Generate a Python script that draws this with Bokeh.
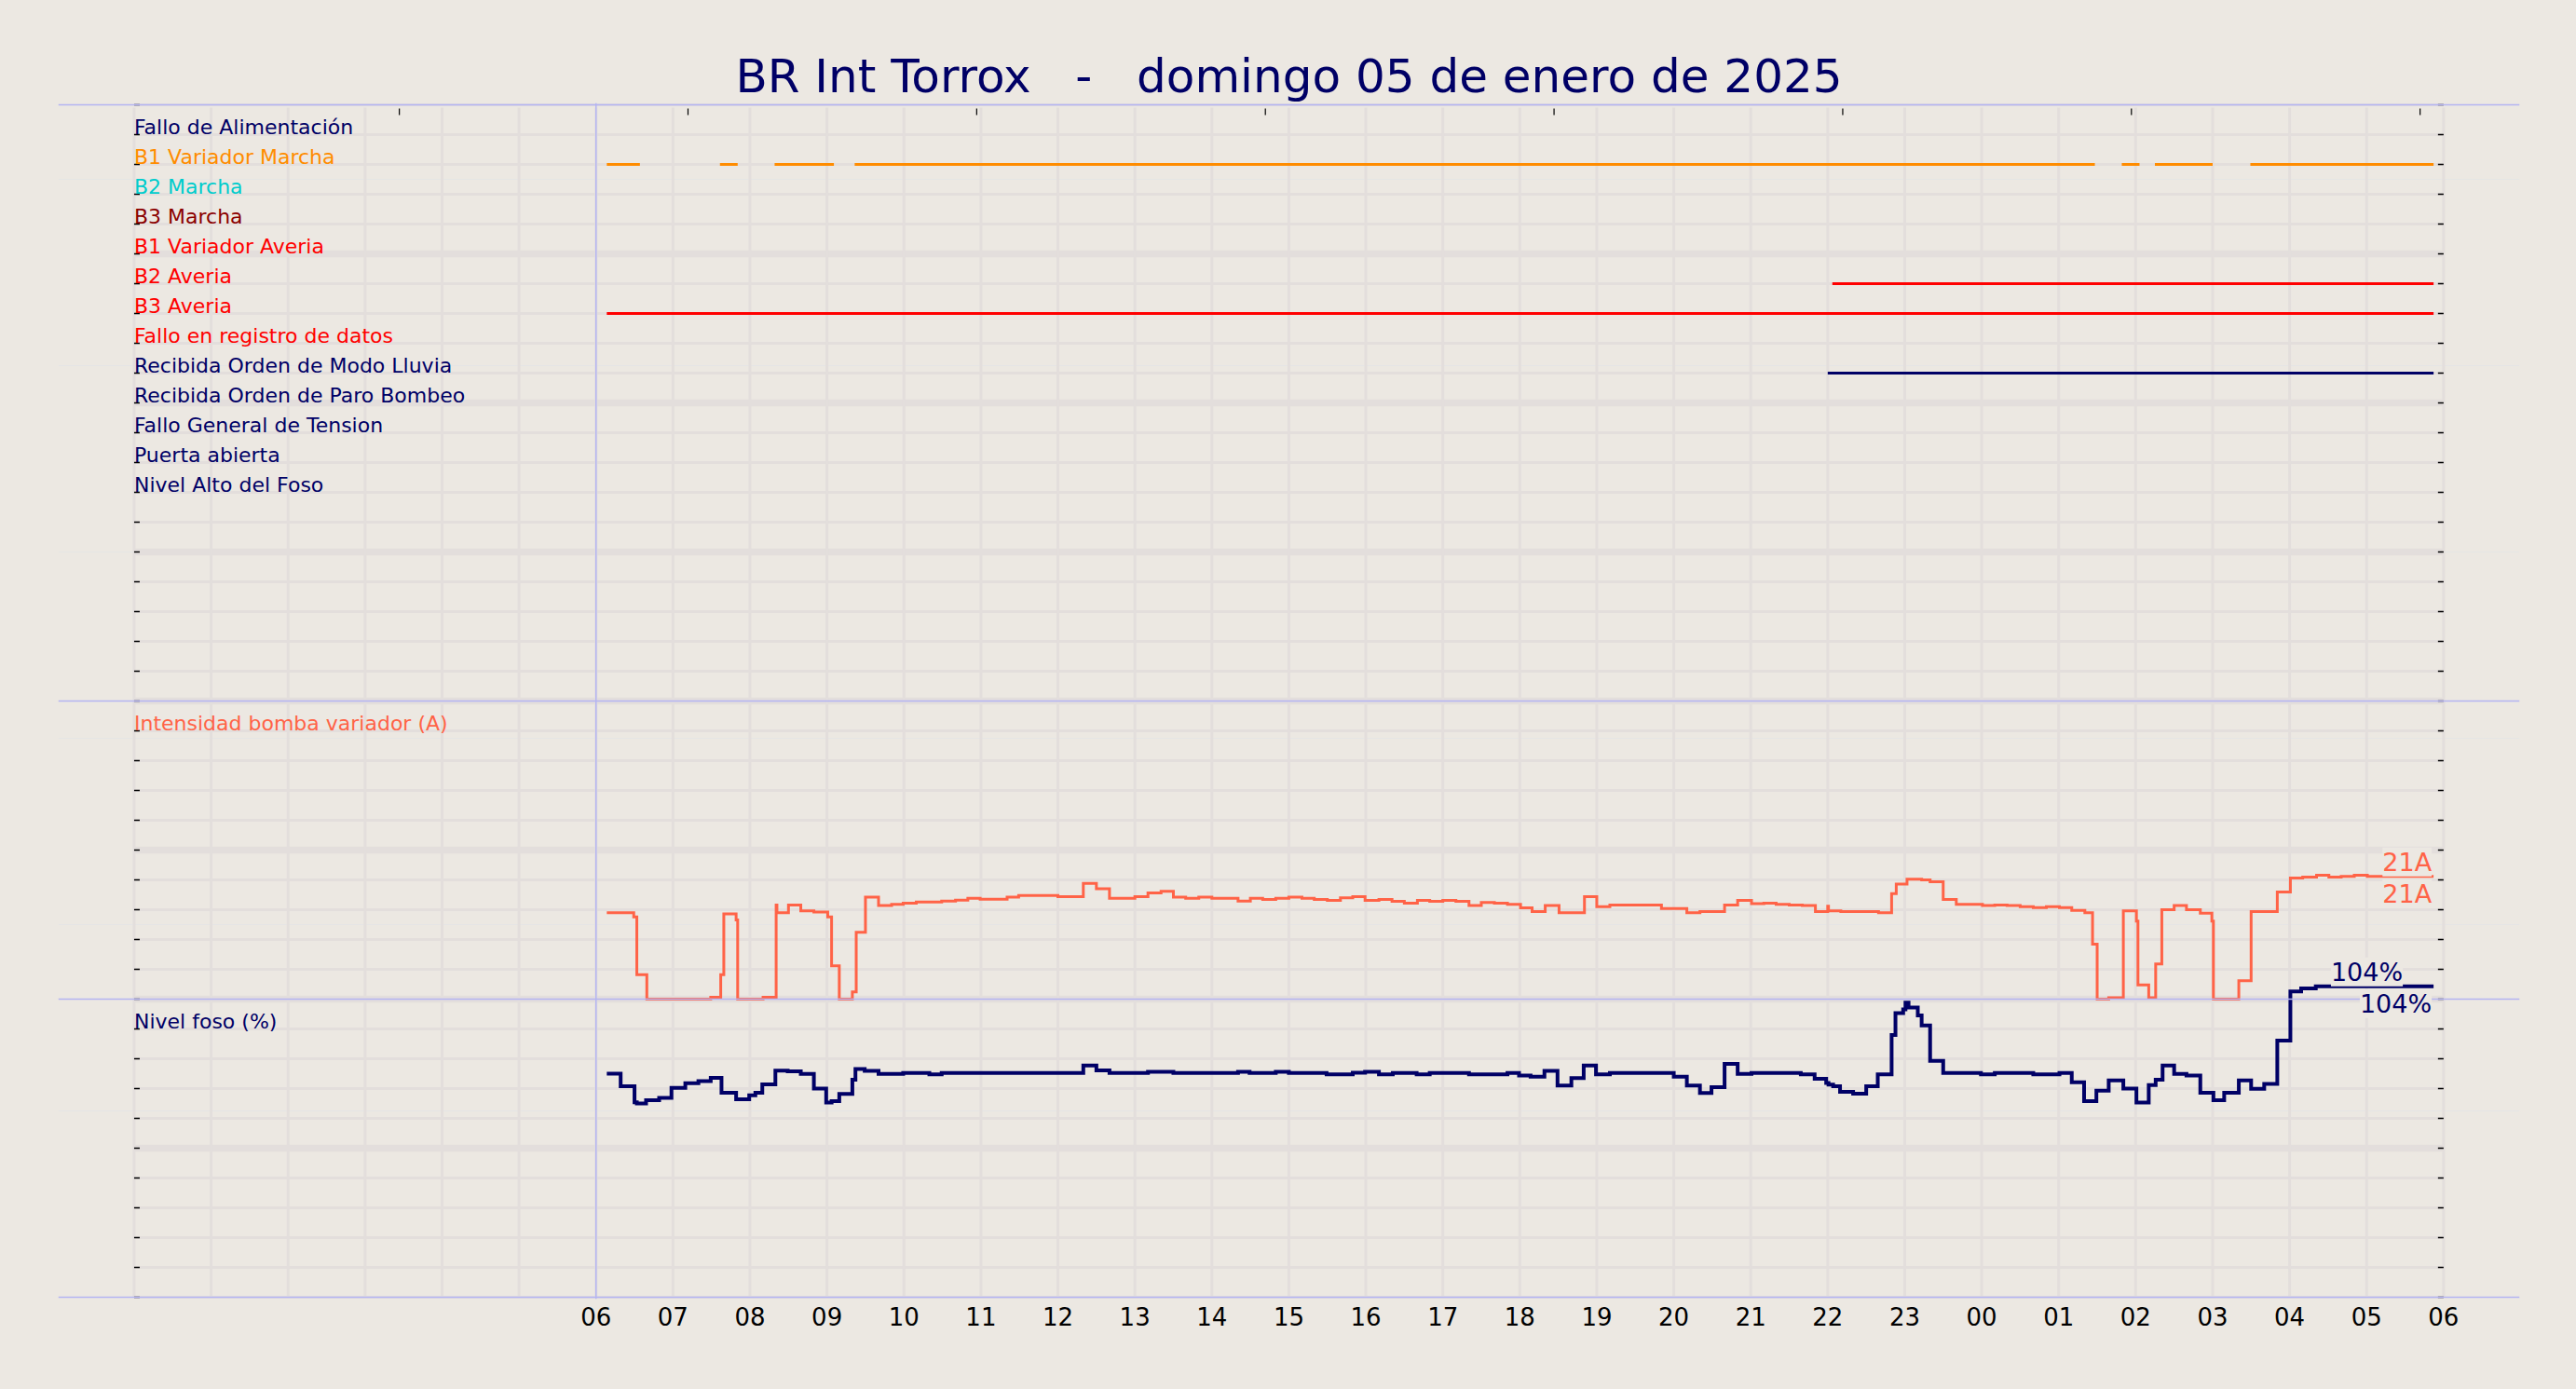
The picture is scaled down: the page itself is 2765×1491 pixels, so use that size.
import math
from bokeh.plotting import figure
from bokeh.models import Range1d, Span, Label, FixedTicker, ColumnDataSource
from bokeh.core.properties import value
from bokeh.embed import file_html
from bokeh.resources import INLINE

# ---------------- data ----------------
TITLE = "BR Int Torrox \u00a0 - \u00a0 domingo 05 de enero de 2025"

signal_labels = [
    "Fallo de Alimentación", "B1 Variador Marcha", "B2 Marcha", "B3 Marcha",
    "B1 Variador Averia", "B2 Averia", "B3 Averia", "Fallo en registro de datos",
    "Recibida Orden de Modo Lluvia", "Recibida Orden de Paro Bombeo",
    "Fallo General de Tension", "Puerta abierta", "Nivel Alto del Foso",
]
signal_colors = [
    "#000066", "#ff8c00", "#00cccc", "#8b0000", "#ff0000", "#ff0000", "#ff0000",
    "#ff0000", "#000066", "#000066", "#000066", "#000066", "#000066",
]

# hours since 00:00 of 05/01/2025 (24 = 00:00 of the next day)
b1_marcha_on = [6.14, 7.61, 8.32, 9.36, 25.82, 26.25, 27.49]
b1_marcha_off = [6.57, 7.84, 9.09, 25.47, 26.05, 27.00, 29.87]
b2_averia_on = [22.06]
b2_averia_off = [29.87]
b3_averia_on = [6.14]
b3_averia_off = [29.87]
modo_lluvia_on = [22.00]
modo_lluvia_off = [29.87]

intensity_t = [
    6.14, 6.49, 6.53, 6.66, 7.49, 7.62, 7.66, 7.82, 7.84, 8.17, 8.34, 8.35, 8.50, 8.66,
    8.83, 9.01, 9.06, 9.16, 9.33, 9.38, 9.50, 9.67, 9.84, 9.99, 10.16, 10.49, 10.67,
    10.83, 10.99, 11.34, 11.49, 12.00, 12.33, 12.50, 12.67, 13.00, 13.17, 13.34, 13.50,
    13.66, 13.83, 14.00, 14.34, 14.50, 14.66, 14.83, 15.00, 15.17, 15.33, 15.50, 15.67,
    15.83, 15.99, 16.17, 16.34, 16.50, 16.67, 16.83, 17.00, 17.17, 17.34, 17.50, 17.67,
    17.84, 18.01, 18.16, 18.33, 18.51, 18.84, 19.00, 19.17, 19.84, 20.17, 20.34, 20.66,
    20.83, 21.01, 21.17, 21.33, 21.50, 21.67, 21.84, 22.00, 22.01, 22.17, 22.66, 22.83,
    22.89, 23.03, 23.22, 23.33, 23.50, 23.67, 24.01, 24.17, 24.33, 24.50, 24.67, 24.84,
    25.01, 25.17, 25.34, 25.44, 25.50, 25.65, 25.84, 26.01, 26.03, 26.17, 26.26, 26.34,
    26.50, 26.66, 26.84, 26.99, 27.01, 27.34, 27.50, 27.84, 28.01, 28.17, 28.35, 28.51,
    28.67, 28.84, 29.01, 29.87,
]
intensity_a = [
    14.5, 13.8, 4.1, 0.0, 0.3, 4.1, 14.3, 13.3, 0.0, 0.3, 15.8, 14.5, 15.8, 14.8,
    14.6, 13.8, 5.6, 0.0, 1.2, 11.2, 17.1, 15.7, 15.9, 16.1, 16.3, 16.45, 16.6,
    16.9, 16.75, 17.1, 17.4, 17.2, 19.4, 18.5, 16.9, 17.2, 17.8, 18.1, 17.1,
    16.9, 17.1, 16.9, 16.45, 16.9, 16.7, 16.9, 17.1, 16.9, 16.7, 16.55, 17.0,
    17.2, 16.55, 16.7, 16.4, 16.1, 16.55, 16.4, 16.55, 16.4, 15.7, 16.2, 16.1,
    15.9, 15.3, 14.7, 15.7, 14.5, 17.2, 15.5, 15.8, 15.2, 14.5, 14.7, 15.8,
    16.55, 16.0, 16.1, 15.9, 15.8, 15.7, 14.7, 15.6, 14.8, 14.7, 14.5, 17.7,
    19.3, 20.1, 20.0, 19.7, 16.7, 15.9, 15.7, 15.8, 15.7, 15.5, 15.35, 15.5,
    15.35, 14.9, 14.5, 9.2, 0.0, 0.25, 14.8, 13.1, 2.4, 0.25, 5.9, 15.0,
    15.7, 15.0, 14.4, 13.1, 0.0, 3.1, 14.7, 17.95, 20.3, 20.45, 20.8, 20.45,
    20.6, 20.8, 20.6, 20.6,
]

level_t = [
    6.14, 6.32, 6.50, 6.53, 6.65, 6.82, 6.98, 7.16, 7.33, 7.49, 7.63, 7.82, 7.99, 8.07,
    8.16, 8.33, 8.49, 8.66, 8.83, 8.99, 9.06, 9.16, 9.33, 9.37, 9.49, 9.67, 9.99, 10.33,
    10.49, 12.33, 12.50, 12.67, 13.17, 13.50, 14.34, 14.49, 14.83, 15.00, 15.49, 15.83,
    15.99, 16.17, 16.35, 16.66, 16.83, 17.34, 17.84, 17.99, 18.14, 18.32, 18.49, 18.67,
    18.83, 18.99, 19.17, 20.00, 20.17, 20.34, 20.49, 20.66, 20.83, 21.01, 21.65, 21.83,
    21.98, 22.01, 22.07, 22.16, 22.33, 22.50, 22.65, 22.83, 22.88, 22.98, 23.01, 23.05,
    23.17, 23.22, 23.33, 23.50, 23.99, 24.17, 24.67, 25.01, 25.17, 25.33, 25.49, 25.65,
    25.84, 26.01, 26.17, 26.26, 26.35, 26.50, 26.66, 26.84, 27.01, 27.15, 27.34, 27.50,
    27.67, 27.84, 28.01, 28.15, 28.34, 29.87,
]
level_pct = [
    75.0, 70.8, 65.4, 65.0, 66.1, 66.9, 70.2, 71.8, 72.5, 73.6, 68.6, 66.4, 67.7, 68.6,
    71.4, 76.0, 75.8, 74.9, 70.0, 65.3, 65.8, 68.2, 73.0, 76.6, 75.9, 74.9, 75.2, 74.8,
    75.2, 77.7, 76.1, 75.2, 75.6, 75.2, 75.6, 75.2, 75.6, 75.2, 74.8, 75.3,
    75.6, 74.8, 75.2, 74.8, 75.2, 74.8, 75.2, 74.4, 74.0, 75.9, 71.0, 73.5,
    77.7, 74.8, 75.2, 74.0, 71.0, 68.5, 70.5, 78.3, 74.9, 75.2, 74.8, 73.3,
    71.9, 71.3, 70.8, 68.9, 68.3, 70.8, 74.8, 88.0, 95.3, 96.6, 98.8, 97.2,
    94.5, 91.2, 79.3, 75.2, 74.8, 75.2, 74.8, 75.2, 72.1, 65.8, 69.3, 72.7,
    70.0, 65.3, 71.2, 73.0, 77.7, 74.9, 74.4, 68.6, 66.1, 68.6, 72.7, 69.9,
    71.6, 86.1, 102.6, 103.6, 104.3, 104.3,
]

hour_ticks = list(range(6, 31))
hour_labels = ["06", "07", "08", "09", "10", "11", "12", "13", "14", "15", "16", "17",
               "18", "19", "20", "21", "22", "23", "00", "01", "02", "03", "04", "05", "06"]
marker_ticks = [3.445, 7.195, 10.945, 14.695, 18.445, 22.195, 25.945, 29.695]

# ---------------- style ----------------
BG = "#ece8e2"
GRID = "#e3dedc"
LAV = "#b4b4f2"
NAVY = "#000066"
TOMATO = "#ff6347"
FONT = "DejaVu Sans"

PAD = 2
p = figure(
    frame_width=2642, frame_height=1284,
    min_border_left=62, min_border_right=53, min_border_top=110, min_border_bottom=89,
    x_range=Range1d(-0.986, 30.988), y_range=Range1d(-PAD, 1280 + PAD),
    output_backend="svg", toolbar_location=None, y_axis_location=None,
)
p.extra_y_ranges = {
    "rows": Range1d(39 + PAD / 32, -1 - PAD / 32),
    "amp": Range1d(-50 - PAD / 6.4, 150 + PAD / 6.4),
    "lvl": Range1d(-PAD / 3.2, 400 + PAD / 3.2),
}
p.background_fill_color = BG
p.border_fill_color = BG
p.outline_line_color = None
p.xgrid.visible = False

p.title.text = TITLE
p.title.align = "center"
p.title.text_font = FONT
p.title.text_font_size = "50px"
p.title.text_font_style = "normal"
p.title.text_color = NAVY
p.title.standoff = 0

ax = p.xaxis[0]
ax.ticker = FixedTicker(ticks=hour_ticks)
ax.major_label_overrides = {t: l for t, l in zip(hour_ticks, hour_labels)}
ax.axis_line_color = None
ax.major_tick_line_color = None
ax.minor_tick_line_color = None
ax.major_label_text_font = FONT
ax.major_label_text_font_size = "26px"
ax.major_label_text_color = "#000000"
ax.major_label_standoff = 2

# grid
row_lines = list(range(0, 1281, 32))
minor_rows = [y for y in row_lines if y % 160 != 0 or y in (0, 1280)]
major_rows = [y for y in row_lines if y % 160 == 0 and y not in (0, 1280)]
hours_all = list(range(0, 31))
p.segment(x0=0, x1=30, y0=minor_rows, y1=minor_rows, line_color=GRID, line_width=3)
p.segment(x0=0, x1=30, y0=major_rows, y1=major_rows, line_color=GRID, line_width=7.5)
p.segment(x0=hours_all, x1=hours_all, y0=0, y1=1277, line_color=GRID, line_width=3)

# small ticks
p.ray(x=0, y=row_lines, length=6, length_units="screen", angle=0, line_color="black", line_width=1.5)
p.ray(x=30, y=row_lines, length=6, length_units="screen", angle=math.pi, line_color="black", line_width=1.5)
p.ray(x=marker_ticks, y=1276, length=7, length_units="screen", angle=-math.pi / 2,
      line_color="black", line_width=1.2)

# digital signals
seg_x0, seg_x1, seg_row, seg_col = [], [], [], []
for on, off, row, col in [
    (b1_marcha_on, b1_marcha_off, 1, "#ff8c00"),
    (b2_averia_on, b2_averia_off, 5, "#ff0000"),
    (b3_averia_on, b3_averia_off, 6, "#ff0000"),
    (modo_lluvia_on, modo_lluvia_off, 8, NAVY),
]:
    for a, b in zip(on, off):
        seg_x0.append(a); seg_x1.append(b); seg_row.append(row); seg_col.append(col)
p.segment(x0="x0", x1="x1", y0="row", y1="row", line_color="col", line_width=3,
          y_range_name="rows",
          source=ColumnDataSource(dict(x0=seg_x0, x1=seg_x1, row=seg_row, col=seg_col)))

TXT_DY = -8  # text sits on the row line (baseline)
p.text(x=0, y="row", text="label", text_color="color", y_range_name="rows",
       source=ColumnDataSource(dict(row=list(range(len(signal_labels))), label=signal_labels,
                                    color=signal_colors)),
       text_font=value(FONT), text_font_size="22px", text_baseline="middle", text_align="left",
       y_offset=TXT_DY)

# analog series
p.step(intensity_t, intensity_a, mode="after", y_range_name="amp", line_color=TOMATO,
       line_width=3, line_join="miter")
p.step(level_t, level_pct, mode="after", y_range_name="lvl", line_color=NAVY,
       line_width=4, line_join="miter")

p.text(x=[0], y=[45], text=["Intensidad bomba variador (A)"], y_range_name="amp",
       text_color=TOMATO, text_font=value(FONT), text_font_size="22px", text_baseline="middle",
       y_offset=TXT_DY)
p.text(x=[0], y=[90], text=["Nivel foso (%)"], y_range_name="lvl",
       text_color=NAVY, text_font=value(FONT), text_font_size="22px", text_baseline="middle",
       y_offset=TXT_DY)

# lavender separators
for loc in (0, 320, 640, 1280):
    p.add_layout(Span(location=loc, dimension="width", line_color=LAV, line_width=1.5))
p.add_layout(Span(location=6, dimension="height", line_color=LAV, line_width=1.5))

# last-value labels
amp_txt = f"{round(intensity_a[-1])}A"
lvl_txt = f"{round(level_pct[-1])}%"
for txt, yv, rng, col, dx_up in [(amp_txt, intensity_a[-1], "amp", TOMATO, -2),
                                  (lvl_txt, level_pct[-1], "lvl", NAVY, -33)]:
    p.add_layout(Label(x=intensity_t[-1], y=yv, y_range_name=rng, text=txt, text_color=col,
                       text_font=FONT, text_font_size="27px", text_align="right",
                       text_baseline="bottom", x_offset=dx_up, background_fill_color=BG))
    p.add_layout(Label(x=intensity_t[-1], y=yv, y_range_name=rng, text=txt, text_color=col,
                       text_font=FONT, text_font_size="27px", text_align="right",
                       text_baseline="top", x_offset=-2, y_offset=-3, background_fill_color=BG))

html = file_html(p, INLINE)
html = html.replace("<head>", "<head><style>body{background-color:#ece8e2;}</style>", 1)
open("out.html", "w").write(html)
